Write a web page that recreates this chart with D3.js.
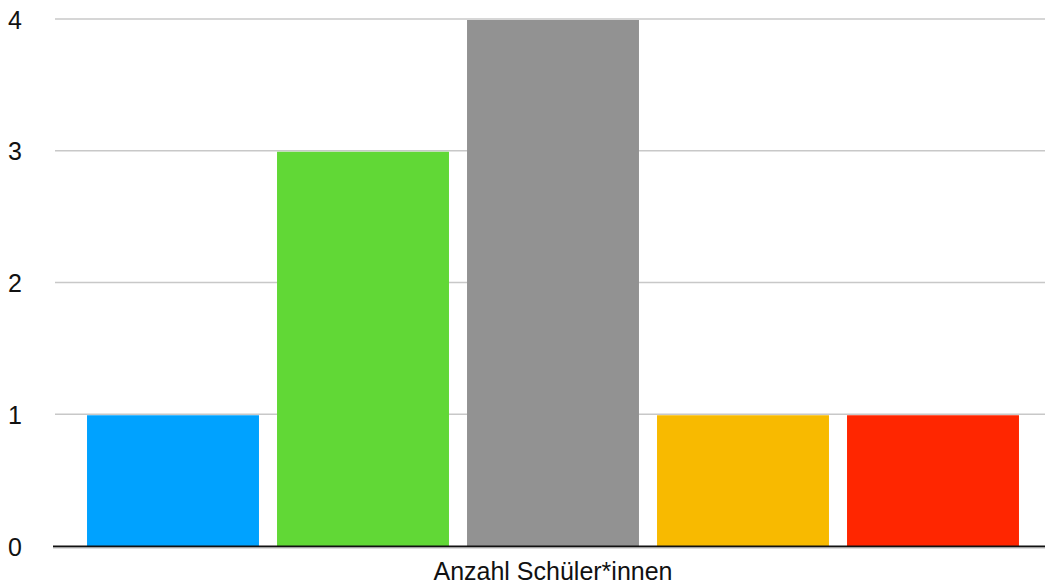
<!DOCTYPE html>
<html>
<head>
<meta charset="utf-8">
<script src="https://cdn.jsdelivr.net/npm/d3@7"></script>
<style>
  body { margin: 0; background: #fff; }
  text { font-family: "Liberation Sans", Arial, Helvetica, sans-serif; }
</style>
</head>
<body>
<script>
// data
const categories = ['Kategorie 1', 'Kategorie 2', 'Kategorie 3', 'Kategorie 4', 'Kategorie 5']
const values = [1, 3, 4, 1, 1]
const colors = ['#00a2ff', '#61d836', '#929292', '#f8ba00', '#ff2600']
const yTicks = [0, 1, 2, 3, 4]
const axisTitle = 'Anzahl Schüler*innen'

const width = 1045
const height = 586

const svg = d3.select('body').append('svg')
  .attr('width', width)
  .attr('height', height)

const x = d3.scaleBand()
  .domain(categories)
  .range([78, 1028])
  .paddingInner(0.095)
  .paddingOuter(0.0475)

const y = d3.scaleLinear()
  .domain([0, 4])
  .range([546, 19])

// gridlines
svg.append('g').attr('class', 'grid')
  .selectAll('line')
  .data(yTicks.filter(d => d > 0))
  .enter()
  .append('line')
  .attr('x1', 55)
  .attr('x2', width)
  .attr('y1', d => y(d))
  .attr('y2', d => y(d))
  .attr('stroke', '#c8c8c8')
  .attr('stroke-width', 1.5)

// bars
svg.append('g').attr('class', 'bars')
  .selectAll('rect')
  .data(values)
  .enter()
  .append('rect')
  .attr('x', (d, i) => x(categories[i]))
  .attr('width', x.bandwidth())
  .attr('y', d => y(d) + 1)
  .attr('height', d => y(0) - y(d) - 1)
  .attr('fill', (d, i) => colors[i])

// baseline
svg.append('line')
  .attr('x1', 53)
  .attr('x2', width)
  .attr('y1', y(0) + 0.5)
  .attr('y2', y(0) + 0.5)
  .attr('stroke', '#111')
  .attr('stroke-width', 2)
svg.append('line')
  .attr('x1', 53)
  .attr('x2', width)
  .attr('y1', y(0) + 2)
  .attr('y2', y(0) + 2)
  .attr('stroke', '#bbb')
  .attr('stroke-width', 1)

// y tick labels
svg.append('g').attr('class', 'y-labels')
  .selectAll('text')
  .data(yTicks)
  .enter()
  .append('text')
  .attr('x', 8)
  .attr('y', d => y(d) + 9.5)
  .attr('font-size', 25)
  .attr('fill', '#111')
  .text(d => d)

// axis title
svg.append('text')
  .attr('x', (x.range()[0] + x.range()[1]) / 2)
  .attr('y', 580)
  .attr('text-anchor', 'middle')
  .attr('font-size', 25)
  .attr('fill', '#111')
  .text(axisTitle)
</script>
</body>
</html>
